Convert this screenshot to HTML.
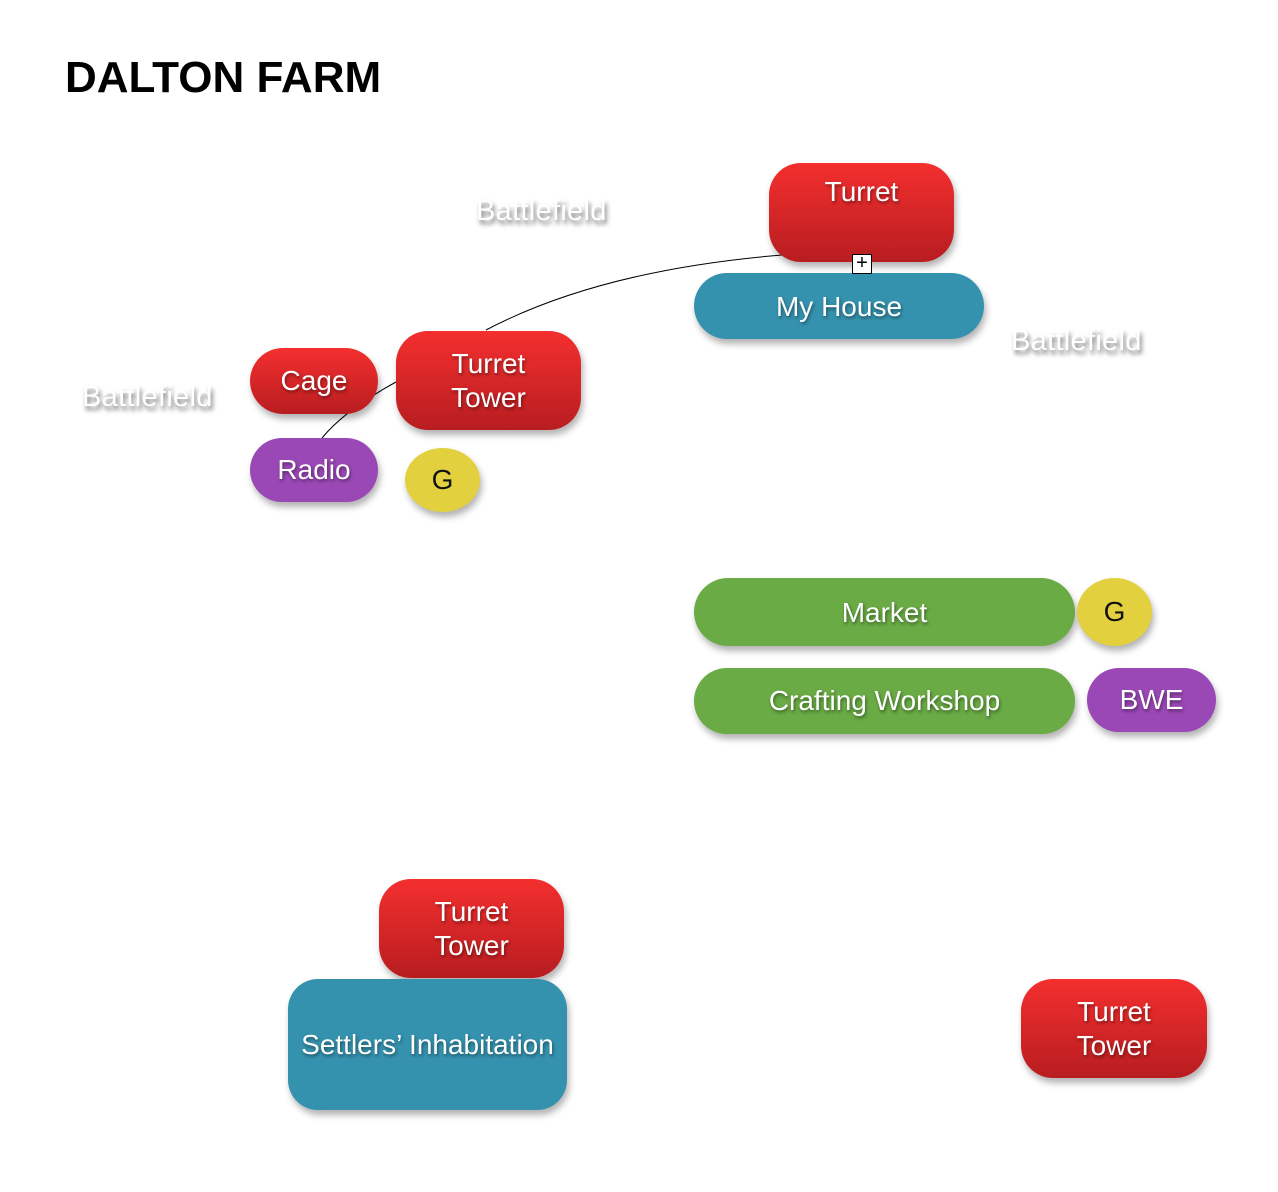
<!DOCTYPE html>
<html><head><meta charset="utf-8">
<style>
html,body{margin:0;padding:0;background:#fff;width:1278px;height:1192px;overflow:hidden;position:relative;font-family:"Liberation Sans",Arial,sans-serif;}
.n{position:absolute;box-sizing:border-box;display:flex;align-items:center;justify-content:center;text-align:center;color:#fff;font-size:28px;line-height:34px;text-shadow:1px 2px 3px rgba(0,0,0,0.45);box-shadow:2px 5px 7px rgba(0,0,0,0.3);}
.red{background:linear-gradient(#f42f2f,#b81d20);border-radius:32px;}
.blue{background:#3592ae;}
.green{background:#6aab45;}
.purple{background:#9a48b5;}
.yellow{background:#e3d03f;color:#111;text-shadow:none;border-radius:50%;}
.bf{position:absolute;color:#fff;font-size:29px;letter-spacing:0.3px;text-shadow:2px 4px 5px rgba(0,0,0,0.55);}
h1{position:absolute;left:65px;top:53px;margin:0;font-size:44px;font-weight:bold;color:#000;}
</style></head><body>
<h1>DALTON FARM</h1>
<svg width="1278" height="1192" style="position:absolute;left:0;top:0">
<path d="M782 255 Q600 270 486 330" fill="none" stroke="#000" stroke-width="1"/>
<path d="M396 382 Q345 410 322 438" fill="none" stroke="#000" stroke-width="1"/>
</svg>
<div class="bf" style="left:476px;top:195px">Battlefield</div>
<div class="bf" style="left:1011px;top:325px">Battlefield</div>
<div class="bf" style="left:82px;top:381px">Battlefield</div>

<div class="n red" style="left:769px;top:163px;width:185px;height:99px;align-items:flex-start;padding-top:12px">Turret</div>
<div class="n blue" style="left:694px;top:273px;width:290px;height:66px;border-radius:33px;padding-top:2px">My House</div>
<div style="position:absolute;left:852px;top:254px;width:18px;height:18px;border:1px solid #000;background:#fff;font-size:20px;line-height:17px;text-align:center;color:#000">+</div>
<div class="n red" style="left:396px;top:331px;width:185px;height:99px">Turret<br>Tower</div>
<div class="n red" style="left:250px;top:348px;width:128px;height:66px;border-radius:33px">Cage</div>
<div class="n purple" style="left:250px;top:438px;width:128px;height:64px;border-radius:32px">Radio</div>
<div class="n yellow" style="left:405px;top:448px;width:75px;height:64px">G</div>

<div class="n green" style="left:694px;top:578px;width:381px;height:68px;border-radius:34px;padding-top:2px">Market</div>
<div class="n yellow" style="left:1077px;top:578px;width:75px;height:68px">G</div>
<div class="n green" style="left:694px;top:668px;width:381px;height:66px;border-radius:33px">Crafting Workshop</div>
<div class="n purple" style="left:1087px;top:668px;width:129px;height:64px;border-radius:32px">BWE</div>

<div class="n red" style="left:379px;top:879px;width:185px;height:99px">Turret<br>Tower</div>
<div class="n blue" style="left:288px;top:979px;width:279px;height:131px;border-radius:30px">Settlers’ Inhabitation</div>
<div class="n red" style="left:1021px;top:979px;width:186px;height:99px">Turret<br>Tower</div>
</body></html>
